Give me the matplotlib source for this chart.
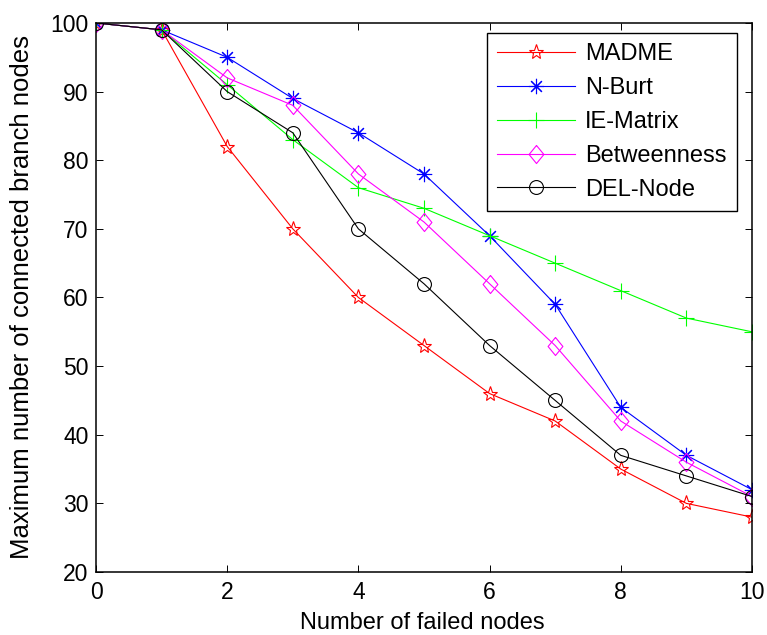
import matplotlib
matplotlib.use("Agg")
import matplotlib.pyplot as plt

plt.rcParams['font.family'] = ['Liberation Sans', 'DejaVu Sans']

x = [0, 1, 2, 3, 4, 5, 6, 7, 8, 9, 10]
madme = [100, 99, 82, 70, 60, 53, 46, 42, 35, 30, 28]
nburt = [100, 99, 95, 89, 84, 78, 69, 59, 44, 37, 32]
iematrix = [100, 99, 91, 83, 76, 73, 69, 65, 61, 57, 55]
betweenness = [100, 99, 92, 88, 78, 71, 62, 53, 42, 36, 31]
delnode = [100, 99, 90, 84, 70, 62, 53, 45, 37, 34, 31]

fig = plt.figure(figsize=(7.67, 6.35), dpi=100)
ax = fig.add_axes([0.1252, 0.0992, 0.8552, 0.8646])

diamond = [(0, 1), (0.82, 0), (0, -1), (-0.82, 0), (0, 1)]
lw = 0.8
mew = 0.8
ax.plot(x, madme, color='#ff0000', marker='*', markersize=11, markerfacecolor='none',
        markeredgewidth=mew, lw=lw, label='MADME')
ax.plot(x, nburt, color='#0000ff', marker=(8, 2, 0), markersize=11, lw=lw,
        markeredgewidth=mew, label='N-Burt')
ax.plot(x, iematrix, color='#00ff00', marker='+', markersize=12, lw=lw,
        markeredgewidth=mew, label='IE-Matrix')
ax.plot(x, betweenness, color='#ff00ff', marker=diamond, markersize=13, markerfacecolor='none',
        markeredgewidth=mew, lw=lw, label='Betweenness')
ax.plot(x, delnode, color='black', marker='o', markersize=10, markerfacecolor='none',
        markeredgewidth=mew, lw=lw, label='DEL-Node')

ax.set_xlim(0, 10)
ax.set_ylim(20, 100)
ax.set_xticks(range(0, 11, 2))
ax.set_yticks(range(20, 101, 10))
ax.tick_params(direction='in', top=True, right=True, labelsize=16.5, length=5, width=0.7)
ax.tick_params(axis='x', pad=6.5)
ax.tick_params(axis='y', pad=5.5)
for s in ax.spines.values():
    s.set_linewidth(1.1)
ax.set_xlabel('Number of failed nodes', fontsize=17)
ax.set_ylabel('Maximum number of connected branch nodes', fontsize=18.5)
ax.xaxis.set_label_coords(0.497, -0.073)
ax.yaxis.set_label_coords(-0.095, 0.5)

leg = ax.legend(loc='upper right', bbox_to_anchor=(0.977, 0.982), borderaxespad=0,
                fontsize=17, fancybox=False, edgecolor='black', framealpha=1,
                handlelength=3.3, handletextpad=0.4, labelspacing=0.5, borderpad=0.45)
leg.get_frame().set_linewidth(1.0)

fig.savefig('out.png', dpi=100)
